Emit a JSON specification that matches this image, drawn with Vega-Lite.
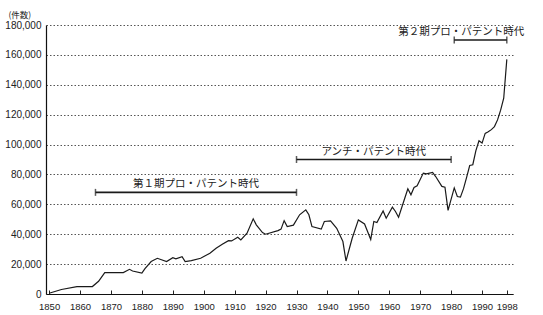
{
  "$schema": "https://vega.github.io/schema/vega-lite/v6.json",
  "autosize": "none",
  "width": 467,
  "height": 269,
  "padding": {"left": 46, "top": 25, "right": 30, "bottom": 21},
  "background": "white",
  "config": {
    "view": {"stroke": null},
    "font": "Liberation Sans",
    "axis": {"labelColor": "#222", "domainColor": "#111", "labelFont": "Liberation Sans", "labelOverlap": false, "labelBound": false}
  },
  "datasets": {
    "patents": [
      {"year": 1850, "count": 500},
      {"year": 1854, "count": 3000},
      {"year": 1859, "count": 4900},
      {"year": 1864, "count": 5000},
      {"year": 1866, "count": 8500},
      {"year": 1868, "count": 14300},
      {"year": 1874, "count": 14300},
      {"year": 1876, "count": 16500},
      {"year": 1877, "count": 15400},
      {"year": 1880, "count": 14000},
      {"year": 1881, "count": 17000},
      {"year": 1883, "count": 21700},
      {"year": 1885, "count": 23900},
      {"year": 1888, "count": 21700},
      {"year": 1890, "count": 24300},
      {"year": 1891, "count": 23500},
      {"year": 1893, "count": 25000},
      {"year": 1894, "count": 21700},
      {"year": 1896, "count": 22300},
      {"year": 1899, "count": 23900},
      {"year": 1902, "count": 27300},
      {"year": 1904, "count": 30600},
      {"year": 1906, "count": 33300},
      {"year": 1908, "count": 35700},
      {"year": 1909, "count": 35500},
      {"year": 1911, "count": 38000},
      {"year": 1912, "count": 36200},
      {"year": 1914, "count": 40700},
      {"year": 1916, "count": 50300},
      {"year": 1917, "count": 46300},
      {"year": 1919, "count": 41100},
      {"year": 1920, "count": 40000},
      {"year": 1924, "count": 42400},
      {"year": 1925, "count": 43400},
      {"year": 1926, "count": 49100},
      {"year": 1927, "count": 45100},
      {"year": 1929, "count": 46100},
      {"year": 1931, "count": 53000},
      {"year": 1933, "count": 56300},
      {"year": 1934, "count": 53000},
      {"year": 1935, "count": 45100},
      {"year": 1938, "count": 43400},
      {"year": 1939, "count": 48500},
      {"year": 1941, "count": 48900},
      {"year": 1943, "count": 44000},
      {"year": 1945, "count": 35100},
      {"year": 1946, "count": 22100},
      {"year": 1948, "count": 37300},
      {"year": 1950, "count": 49600},
      {"year": 1952, "count": 46900},
      {"year": 1954, "count": 36500},
      {"year": 1955, "count": 48500},
      {"year": 1956, "count": 47800},
      {"year": 1958, "count": 55600},
      {"year": 1959, "count": 50700},
      {"year": 1961, "count": 58100},
      {"year": 1962, "count": 55200},
      {"year": 1963, "count": 51400},
      {"year": 1965, "count": 64100},
      {"year": 1966, "count": 70400},
      {"year": 1967, "count": 66400},
      {"year": 1968, "count": 71300},
      {"year": 1969, "count": 72400},
      {"year": 1971, "count": 80900},
      {"year": 1972, "count": 80400},
      {"year": 1974, "count": 81300},
      {"year": 1975, "count": 78600},
      {"year": 1977, "count": 72000},
      {"year": 1978, "count": 71500},
      {"year": 1979, "count": 56000},
      {"year": 1981, "count": 71000},
      {"year": 1982, "count": 65200},
      {"year": 1983, "count": 64800},
      {"year": 1984, "count": 70500},
      {"year": 1985, "count": 78000},
      {"year": 1986, "count": 86000},
      {"year": 1987, "count": 86500},
      {"year": 1988, "count": 96000},
      {"year": 1989, "count": 102500},
      {"year": 1990, "count": 101000},
      {"year": 1991, "count": 107500},
      {"year": 1992, "count": 108500},
      {"year": 1993, "count": 110000},
      {"year": 1994, "count": 112000},
      {"year": 1995, "count": 116500},
      {"year": 1996, "count": 123000},
      {"year": 1997, "count": 131000},
      {"year": 1998, "count": 157000}
    ],
    "periods": [
      {"label": "第１期プロ・パテント時代", "start": 1865, "end": 1930, "level": 68000, "labelAt": 1897.5},
      {"label": "アンチ・パテント時代", "start": 1930, "end": 1980, "level": 90000, "labelAt": 1955},
      {"label": "第２期プロ・パテント時代", "start": 1981, "end": 1998, "level": 170000, "labelAt": 1983.3}
    ]
  },
  "layer": [
    {
      "data": {"name": "patents"},
      "mark": {"type": "line", "stroke": "#1a1a1a", "strokeWidth": 1.2, "interpolate": "linear"},
      "encoding": {
        "x": {
          "field": "year", "type": "quantitative",
          "scale": {"domain": [1849, 2000], "nice": false, "zero": false},
          "axis": {"title": null, "values": [1850, 1860, 1870, 1880, 1890, 1900, 1910, 1920, 1930, 1940, 1950, 1960, 1970, 1980, 1990, 1998], "format": "d", "grid": false, "ticks": true, "tickSize": -4, "tickColor": "#222", "labelFontSize": 9.5, "labelPadding": 11, "domainWidth": 1.2}
        },
        "y": {
          "field": "count", "type": "quantitative",
          "scale": {"domain": [0, 180000], "nice": false},
          "axis": {"values": [0, 20000, 40000, 60000, 80000, 100000, 120000, 140000, 160000, 180000], "format": ",d", "ticks": false, "labelPadding": 5, "labelFontSize": 10, "grid": true, "gridDash": [1.5, 2], "gridColor": "#555", "gridWidth": 1, "domainWidth": 1.2, "title": "(件数)", "titleAngle": 0, "titleAlign": "left", "titleBaseline": "middle", "titleX": -38, "titleY": -11, "titleFontSize": 8.5, "titleFontWeight": "normal", "titleFont": "Noto Sans CJK JP", "titleColor": "#222"}
        }
      }
    },
    {
      "data": {"name": "periods"},
      "mark": {"type": "rule", "stroke": "#1a1a1a", "strokeWidth": 1.6},
      "encoding": {
        "x": {
          "field": "start", "type": "quantitative",
          "scale": {"domain": [1849, 2000], "nice": false, "zero": false},
          "axis": {"title": null, "values": [1850, 1860, 1870, 1880, 1890, 1900, 1910, 1920, 1930, 1940, 1950, 1960, 1970, 1980, 1990, 1998], "format": "d", "grid": false, "ticks": true, "tickSize": -4, "tickColor": "#222", "labelFontSize": 9.5, "labelPadding": 11, "domainWidth": 1.2}
        },
        "x2": {"field": "end"},
        "y": {
          "field": "level", "type": "quantitative",
          "scale": {"domain": [0, 180000], "nice": false},
          "axis": {"values": [0, 20000, 40000, 60000, 80000, 100000, 120000, 140000, 160000, 180000], "format": ",d", "ticks": false, "labelPadding": 5, "labelFontSize": 10, "grid": true, "gridDash": [1.5, 2], "gridColor": "#555", "gridWidth": 1, "domainWidth": 1.2, "title": "(件数)", "titleAngle": 0, "titleAlign": "left", "titleBaseline": "middle", "titleX": -38, "titleY": -11, "titleFontSize": 8.5, "titleFontWeight": "normal", "titleFont": "Noto Sans CJK JP", "titleColor": "#222"}
        }
      }
    },
    {
      "data": {"name": "periods"},
      "mark": {"type": "tick", "orient": "vertical", "color": "#1a1a1a", "size": 7, "thickness": 1.5},
      "encoding": {
        "x": {
          "field": "start", "type": "quantitative",
          "scale": {"domain": [1849, 2000], "nice": false, "zero": false},
          "axis": {"title": null, "values": [1850, 1860, 1870, 1880, 1890, 1900, 1910, 1920, 1930, 1940, 1950, 1960, 1970, 1980, 1990, 1998], "format": "d", "grid": false, "ticks": true, "tickSize": -4, "tickColor": "#222", "labelFontSize": 9.5, "labelPadding": 11, "domainWidth": 1.2}
        },
        "y": {
          "field": "level", "type": "quantitative",
          "scale": {"domain": [0, 180000], "nice": false},
          "axis": {"values": [0, 20000, 40000, 60000, 80000, 100000, 120000, 140000, 160000, 180000], "format": ",d", "ticks": false, "labelPadding": 5, "labelFontSize": 10, "grid": true, "gridDash": [1.5, 2], "gridColor": "#555", "gridWidth": 1, "domainWidth": 1.2, "title": "(件数)", "titleAngle": 0, "titleAlign": "left", "titleBaseline": "middle", "titleX": -38, "titleY": -11, "titleFontSize": 8.5, "titleFontWeight": "normal", "titleFont": "Noto Sans CJK JP", "titleColor": "#222"}
        }
      }
    },
    {
      "data": {"name": "periods"},
      "mark": {"type": "tick", "orient": "vertical", "color": "#1a1a1a", "size": 7, "thickness": 1.5},
      "encoding": {
        "x": {
          "field": "end", "type": "quantitative",
          "scale": {"domain": [1849, 2000], "nice": false, "zero": false},
          "axis": {"title": null, "values": [1850, 1860, 1870, 1880, 1890, 1900, 1910, 1920, 1930, 1940, 1950, 1960, 1970, 1980, 1990, 1998], "format": "d", "grid": false, "ticks": true, "tickSize": -4, "tickColor": "#222", "labelFontSize": 9.5, "labelPadding": 11, "domainWidth": 1.2}
        },
        "y": {
          "field": "level", "type": "quantitative",
          "scale": {"domain": [0, 180000], "nice": false},
          "axis": {"values": [0, 20000, 40000, 60000, 80000, 100000, 120000, 140000, 160000, 180000], "format": ",d", "ticks": false, "labelPadding": 5, "labelFontSize": 10, "grid": true, "gridDash": [1.5, 2], "gridColor": "#555", "gridWidth": 1, "domainWidth": 1.2, "title": "(件数)", "titleAngle": 0, "titleAlign": "left", "titleBaseline": "middle", "titleX": -38, "titleY": -11, "titleFontSize": 8.5, "titleFontWeight": "normal", "titleFont": "Noto Sans CJK JP", "titleColor": "#222"}
        }
      }
    },
    {
      "data": {"name": "periods"},
      "mark": {"type": "text", "font": "Noto Sans CJK JP", "fontSize": 10.5, "color": "#222", "baseline": "bottom", "align": "center", "dy": -3},
      "encoding": {
        "x": {
          "field": "labelAt", "type": "quantitative",
          "scale": {"domain": [1849, 2000], "nice": false, "zero": false},
          "axis": {"title": null, "values": [1850, 1860, 1870, 1880, 1890, 1900, 1910, 1920, 1930, 1940, 1950, 1960, 1970, 1980, 1990, 1998], "format": "d", "grid": false, "ticks": true, "tickSize": -4, "tickColor": "#222", "labelFontSize": 9.5, "labelPadding": 11, "domainWidth": 1.2}
        },
        "y": {
          "field": "level", "type": "quantitative",
          "scale": {"domain": [0, 180000], "nice": false},
          "axis": {"values": [0, 20000, 40000, 60000, 80000, 100000, 120000, 140000, 160000, 180000], "format": ",d", "ticks": false, "labelPadding": 5, "labelFontSize": 10, "grid": true, "gridDash": [1.5, 2], "gridColor": "#555", "gridWidth": 1, "domainWidth": 1.2, "title": "(件数)", "titleAngle": 0, "titleAlign": "left", "titleBaseline": "middle", "titleX": -38, "titleY": -11, "titleFontSize": 8.5, "titleFontWeight": "normal", "titleFont": "Noto Sans CJK JP", "titleColor": "#222"}
        },
        "text": {"field": "label"}
      }
    }
  ]
}
